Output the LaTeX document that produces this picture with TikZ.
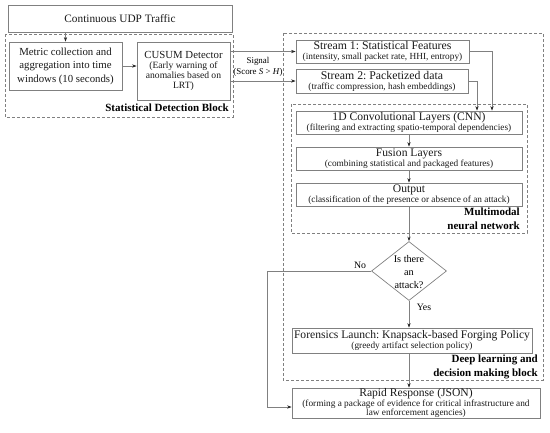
\documentclass[tikz,border=0pt]{standalone}
\usepackage{fontspec}
\setmainfont{Liberation Serif}
\usetikzlibrary{arrows.meta,shapes.geometric,calc}
\definecolor{bx}{gray}{0.5}
\definecolor{tip}{gray}{0.15}
\newcommand\myttl{\fontsize{11.6}{12}\selectfont}
\newcommand\mybig{\fontsize{10.8}{13.5}\selectfont}
\newcommand\mysub{\fontsize{9.3}{10}\selectfont}
\newcommand\mylbl{\fontsize{11}{13.5}\selectfont\bfseries}
\frenchspacing
\begin{document}
\frenchspacing
\begin{tikzpicture}[x=1pt,y=-1pt,
  box/.style={draw=bx, line width=0.7pt, inner xsep=2pt, inner ysep=0pt, align=flush center, text=black!90},
  grp/.style={draw=bx, dash pattern=on 3pt off 2pt, line width=0.6pt},
  arr/.style={draw=bx, line width=0.7pt, -{Stealth[length=4.5pt,width=3.2pt,color=tip]}},
  lbl/.style={font=\mylbl, align=right, inner sep=0pt},
]
\useasboundingbox (0,0) rectangle (550,432);

% groups
\draw[grp] (5,34) rectangle (233,117);
\draw[grp] (283,33) rectangle (543,380);
\draw[grp] (291,104) rectangle (527,233);

% nodes
\node[box, minimum width=224pt, minimum height=27pt, font=\fontsize{11.3}{13}\selectfont] (udp) at (120,18.5) {Continuous UDP Traffic};
\node[box, minimum width=113pt, minimum height=48pt, text width=109pt, font=\mybig] (metric) at (65.5,66)
  {Metric collection and\\aggregation into time\\windows (10 seconds)};
\node[box, minimum width=93pt, minimum height=58pt, text width=89pt] (cusum) at (183.5,71)
  {{\fontsize{10.8}{12}\selectfont CUSUM Detector\par}{\fontsize{9.6}{10}\selectfont (Early warning of\\anomalies based on\\LRT)\par}};

\node[box, minimum width=173pt, minimum height=23pt, text width=169pt] (s1) at (382.5,51.5)
  {{\fontsize{11.8}{12}\selectfont Stream 1: Statistical Features\par}{\mysub (intensity, small packet rate, HHI, entropy)\par}};
\node[box, minimum width=172pt, minimum height=24pt, text width=168pt] (s2) at (382,81)
  {{\fontsize{11.8}{12.5}\selectfont Stream 2: Packetized data\par}{\mysub (traffic compression, hash embeddings)\par}};

\node[box, minimum width=226pt, minimum height=23pt, text width=222pt] (cnn) at (409,122.5)
  {{\myttl 1D Convolutional Layers (CNN)\par}{\mysub (filtering and extracting spatio-temporal dependencies)\par}};
\node[box, minimum width=226pt, minimum height=23pt, text width=222pt] (fus) at (409,158.5)
  {{\myttl Fusion Layers\par}{\mysub (combining statistical and packaged features)\par}};
\node[box, minimum width=226pt, minimum height=23pt, text width=222pt] (out) at (409,194.5)
  {{\myttl Output\par}{\mysub (classification of the presence or absence of an attack)\par}};

\node[draw=bx, line width=0.7pt, diamond, inner sep=0pt, minimum width=75pt, minimum height=59pt] (dia) at (409,271) {};
\node[align=center, font=\fontsize{10.2}{13}\selectfont, inner sep=0pt] (diatxt) at (409,272) {Is there\\an\\attack?};

\node[box, minimum width=240pt, minimum height=25pt, text width=236pt] (for) at (412,340.5)
  {{\myttl Forensics Launch: Knapsack-based Forging Policy\par}{\mysub (greedy artifact selection policy)\par}};
\node[box, minimum width=248pt, minimum height=30pt, text width=244pt] (rap) at (416,403)
  {{\myttl Rapid Response (JSON)\par}{\fontsize{9.3}{9.5}\selectfont (forming a package of evidence for critical infrastructure and\\law enforcement agencies)\par}};

% labels
\node[lbl, anchor=east] (lstat) at (229,108) {Statistical Detection Block};
\node[lbl, anchor=north east] (lmm) at (520,208) {Multimodal\\neural network};
\node[lbl, anchor=north east] (ldl) at (538,355) {Deep learning and\\decision making block};
\node[align=center, font=\fontsize{8.9}{10.5}\selectfont, inner sep=0pt] (sig) at (258,67) {Signal\\(Score \textit{S} > \textit{H})};
\node[font=\fontsize{9.8}{10}\selectfont, inner sep=0pt, anchor=south] (no) at (360,269) {No};
\node[font=\fontsize{9.8}{10}\selectfont, inner sep=0pt] (yes) at (424,307) {Yes};

% connectors
\draw[arr] (metric.north |- udp.south) -- (metric.north);
\draw[arr] (metric.east) -- (cusum.west |- metric.east);
\draw[arr] (cusum.east |- s1.west) -- (s1.west);
\draw[arr] (cusum.east |- s2.west) -- (s2.west);
\draw[arr] (s1.east) -| ([xshift=83pt]cnn.north);
\draw[arr] (s2.east) -| ([xshift=68pt]cnn.north);
\draw[arr] (cnn.south) -- (fus.north);
\draw[arr] (fus.south) -- (out.north);
\draw[arr] (out.south) -- (dia.north);
\draw[arr] (dia.south) -- (dia.south |- for.north);
\draw[arr] (for.south -| dia.south) -- (rap.north -| dia.south);
\coordinate (nocorner) at (267,271);
\draw[arr] (dia.west) -- (nocorner) |- ([yshift=-4pt]rap.west);
\end{tikzpicture}
\end{document}
